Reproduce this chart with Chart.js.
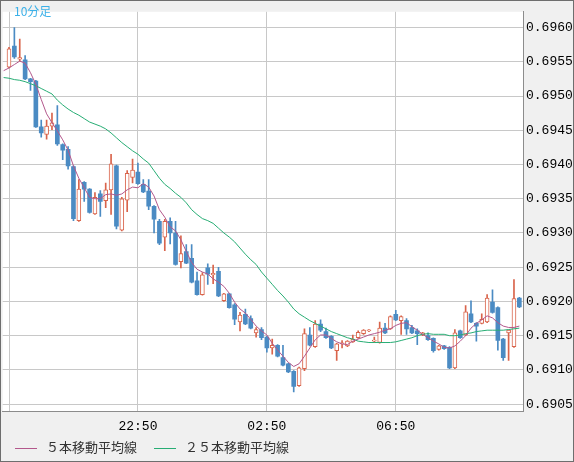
<!DOCTYPE html>
<html>
<head>
<meta charset="utf-8">
<script src="https://cdn.jsdelivr.net/npm/chart.js@4.4.1/dist/chart.umd.min.js"></script>
<style>
  body { margin: 0; background: #fff; }
  #wrap { position: relative; width: 574px; height: 462px; box-sizing: border-box; border: 1px solid #6e6e6e; background: #f0f0f0; }
  canvas { display: block; }
  #tf { position: absolute; left: 13px; top: 1px; font: 12px 'Noto Sans CJK JP'; color: #3ab0e8; }
  #legend { position: absolute; left: 14px; top: 436px; font: 13px 'Noto Sans CJK JP'; color: #333; white-space: nowrap; }
  #legend .sw { display: inline-block; width: 22px; height: 1px; vertical-align: middle; margin-right: 9px; }
  #legend .item2 { margin-left: 17px; }
</style>
</head>
<body>
<div id="wrap">
  <canvas id="chart" width="572" height="460"></canvas>
  <div id="tf">10分足</div>
  <div id="legend">
    <span class="sw" style="background:#b3588c"></span>５本移動平均線<span class="sw item2" style="background:#27ad74"></span>２５本移動平均線
  </div>
</div>
<script>
'use strict';

// 10 minute candles, 18:50 -> 10:40
let opens = [
  0.69542, 0.69573, 0.69554, 0.69553, 0.69525, 0.69522, 0.69455, 0.69444, 0.69456, 0.69458,
  0.69429, 0.69422, 0.69397, 0.69318, 0.69374, 0.69364, 0.69328, 0.69357, 0.69347, 0.69363,
  0.69398, 0.69304, 0.69348, 0.69381, 0.69389, 0.69371, 0.69361, 0.69339, 0.69317, 0.69294,
  0.69317, 0.69300, 0.69258, 0.69273, 0.69263, 0.69230, 0.69210, 0.69249, 0.69239, 0.69244,
  0.69201, 0.69211, 0.69195, 0.69170, 0.69181, 0.69175, 0.69154, 0.69159, 0.69148, 0.69132,
  0.69136, 0.69118, 0.69109, 0.69098, 0.69077, 0.69102, 0.69151, 0.69134, 0.69167, 0.69156,
  0.69149, 0.69128, 0.69138, 0.69135, 0.69141, 0.69147, 0.69153, 0.69157, 0.69142, 0.69140,
  0.69161, 0.69160, 0.69181, 0.69172, 0.69172, 0.69162, 0.69157, 0.69151, 0.69150, 0.69146,
  0.69130, 0.69135, 0.69133, 0.69103, 0.69157, 0.69151, 0.69182, 0.69168, 0.69168, 0.69170,
  0.69199, 0.69191, 0.69145, 0.69154, 0.69134, 0.69205
];
let highs = [
  0.69571, 0.69600, 0.69583, 0.69559, 0.69526, 0.69523, 0.69465, 0.69465, 0.69475, 0.69486,
  0.69430, 0.69426, 0.69398, 0.69378, 0.69375, 0.69365, 0.69359, 0.69362, 0.69373, 0.69415,
  0.69399, 0.69352, 0.69391, 0.69408, 0.69402, 0.69378, 0.69378, 0.69340, 0.69320, 0.69320,
  0.69322, 0.69317, 0.69296, 0.69283, 0.69283, 0.69243, 0.69242, 0.69255, 0.69253, 0.69250,
  0.69212, 0.69212, 0.69197, 0.69184, 0.69189, 0.69179, 0.69162, 0.69162, 0.69149, 0.69145,
  0.69137, 0.69136, 0.69110, 0.69099, 0.69104, 0.69160, 0.69162, 0.69172, 0.69173, 0.69161,
  0.69150, 0.69139, 0.69143, 0.69143, 0.69151, 0.69157, 0.69159, 0.69159, 0.69148, 0.69170,
  0.69168, 0.69179, 0.69187, 0.69179, 0.69175, 0.69165, 0.69160, 0.69155, 0.69154, 0.69147,
  0.69136, 0.69136, 0.69134, 0.69159, 0.69158, 0.69194, 0.69201, 0.69169, 0.69182, 0.69210,
  0.69217, 0.69192, 0.69146, 0.69158, 0.69232, 0.69206
];
let lows = [
  0.69541, 0.69555, 0.69551, 0.69524, 0.69508, 0.69454, 0.69440, 0.69437, 0.69451, 0.69428,
  0.69407, 0.69393, 0.69318, 0.69317, 0.69346, 0.69329, 0.69327, 0.69324, 0.69337, 0.69327,
  0.69306, 0.69303, 0.69331, 0.69373, 0.69371, 0.69359, 0.69334, 0.69300, 0.69283, 0.69274,
  0.69284, 0.69253, 0.69249, 0.69255, 0.69227, 0.69209, 0.69209, 0.69225, 0.69226, 0.69207,
  0.69200, 0.69190, 0.69166, 0.69157, 0.69166, 0.69160, 0.69148, 0.69144, 0.69126, 0.69123,
  0.69119, 0.69106, 0.69096, 0.69068, 0.69076, 0.69099, 0.69135, 0.69133, 0.69156, 0.69146,
  0.69131, 0.69114, 0.69132, 0.69134, 0.69140, 0.69146, 0.69152, 0.69156, 0.69140, 0.69139,
  0.69153, 0.69159, 0.69172, 0.69152, 0.69152, 0.69153, 0.69137, 0.69150, 0.69143, 0.69126,
  0.69129, 0.69130, 0.69102, 0.69102, 0.69146, 0.69150, 0.69169, 0.69142, 0.69167, 0.69169,
  0.69183, 0.69129, 0.69114, 0.69114, 0.69133, 0.69191
];
let closes = [
  0.69569, 0.69557, 0.69556, 0.69525, 0.69521, 0.69455, 0.69446, 0.69456, 0.69461, 0.69430,
  0.69421, 0.69398, 0.69321, 0.69364, 0.69364, 0.69330, 0.69352, 0.69346, 0.69363, 0.69401,
  0.69310, 0.69350, 0.69387, 0.69392, 0.69372, 0.69360, 0.69339, 0.69320, 0.69285, 0.69317,
  0.69300, 0.69254, 0.69270, 0.69256, 0.69228, 0.69210, 0.69239, 0.69240, 0.69241, 0.69208,
  0.69211, 0.69191, 0.69174, 0.69180, 0.69167, 0.69161, 0.69159, 0.69147, 0.69132, 0.69136,
  0.69120, 0.69107, 0.69097, 0.69076, 0.69103, 0.69153, 0.69136, 0.69167, 0.69158, 0.69147,
  0.69132, 0.69138, 0.69139, 0.69142, 0.69145, 0.69155, 0.69158, 0.69158, 0.69143, 0.69161,
  0.69154, 0.69178, 0.69173, 0.69178, 0.69160, 0.69154, 0.69153, 0.69154, 0.69144, 0.69128,
  0.69135, 0.69131, 0.69103, 0.69154, 0.69147, 0.69185, 0.69170, 0.69164, 0.69174, 0.69205,
  0.69184, 0.69143, 0.69118, 0.69158, 0.69204, 0.69192
];

// moving averages as drawn (they begin one bar before the first candle)
let ma5Before = 0.69537;
let ma25Before = 0.69527;
let ma5 = [
  0.69541, 0.69546, 0.69551, 0.69548, 0.69534, 0.69517, 0.69495, 0.69474, 0.69461, 0.69449,
  0.69436, 0.69421, 0.69398, 0.69380, 0.69366, 0.69352, 0.69350, 0.69350, 0.69356, 0.69357,
  0.69355, 0.69357, 0.69363, 0.69367, 0.69366, 0.69372, 0.69367, 0.69354, 0.69334, 0.69323,
  0.69309, 0.69303, 0.69290, 0.69273, 0.69257, 0.69247, 0.69243, 0.69240, 0.69233, 0.69228,
  0.69222, 0.69212, 0.69199, 0.69189, 0.69183, 0.69174, 0.69164, 0.69157, 0.69151, 0.69139,
  0.69129, 0.69120, 0.69111, 0.69105, 0.69109, 0.69120, 0.69132, 0.69144, 0.69151, 0.69151,
  0.69146, 0.69141, 0.69138, 0.69137, 0.69142, 0.69145, 0.69148, 0.69151, 0.69153, 0.69155,
  0.69158, 0.69160, 0.69165, 0.69168, 0.69169, 0.69163, 0.69158, 0.69152, 0.69147, 0.69142,
  0.69138, 0.69133, 0.69132, 0.69135, 0.69142, 0.69150, 0.69161, 0.69168, 0.69173, 0.69179,
  0.69176, 0.69169, 0.69164, 0.69162, 0.69162, 0.69164
];
let ma25 = [
  0.69526, 0.69524, 0.69523, 0.69521, 0.69518, 0.69515, 0.69511, 0.69507, 0.69503, 0.69494,
  0.69487, 0.69481, 0.69476, 0.69472, 0.69467, 0.69462, 0.69459, 0.69456, 0.69452, 0.69446,
  0.69439, 0.69432, 0.69426, 0.69420, 0.69415, 0.69408, 0.69402, 0.69391, 0.69380, 0.69371,
  0.69365, 0.69358, 0.69352, 0.69344, 0.69334, 0.69327, 0.69321, 0.69318, 0.69314, 0.69307,
  0.69300, 0.69294, 0.69287, 0.69278, 0.69269, 0.69261, 0.69254, 0.69243, 0.69234, 0.69225,
  0.69216, 0.69208, 0.69199, 0.69189, 0.69182, 0.69177, 0.69172, 0.69168, 0.69164, 0.69160,
  0.69156, 0.69153, 0.69150, 0.69147, 0.69145, 0.69142, 0.69141, 0.69140, 0.69140, 0.69140,
  0.69140, 0.69140, 0.69141, 0.69143, 0.69145, 0.69147, 0.69150, 0.69152, 0.69153, 0.69152,
  0.69152, 0.69152, 0.69150, 0.69150, 0.69151, 0.69153, 0.69154, 0.69156, 0.69157, 0.69158,
  0.69158, 0.69158, 0.69158, 0.69159, 0.69160, 0.69161
];

// axis ticks
let xTickIndex = [0, 24, 48, 72];
let xTickLabels = ['18:50', '22:50', '02:50', '06:50'];
let yTicks = [0.6905, 0.6910, 0.6915, 0.6920, 0.6925, 0.6930, 0.6935, 0.6940, 0.6945, 0.6950, 0.6955, 0.6960];

let upColor = '#d9644b';
let downColor = '#4b8bc3';
let ma5Color = '#b3588c';
let ma25Color = '#27ad74';
let gridColor = '#c8c8c8';
let axisFont = { family: 'Liberation Mono', size: 13 };

function isUp(i) {
    return closes[i] >= opens[i];
}

let wickData = [];
let bodyData = [];
let ma5Data = [{ x: -1, y: ma5Before }];
let ma25Data = [{ x: -1, y: ma25Before }];
for (let i = 0; i < opens.length; i++) {
    wickData.push({ x: i, y: [lows[i], highs[i]] });
    bodyData.push({ x: i, y: [opens[i], closes[i]] });
    ma5Data.push({ x: i, y: ma5[i] });
    ma25Data.push({ x: i, y: ma25[i] });
}

// white plot area on the grey panel
const plotBg = {
    id: 'plotBg',
    beforeDraw(chart) {
        let a = chart.chartArea;
        let ctx = chart.ctx;
        ctx.save();
        ctx.fillStyle = '#ffffff';
        ctx.fillRect(a.left, a.top, a.right - a.left, a.bottom - a.top);
        ctx.restore();
    }
};

let ctx = document.getElementById('chart').getContext('2d');
new Chart(ctx, {
    type: 'bar',
    data: {
        datasets: [
            {
                type: 'line',
                label: '５本移動平均線',
                data: ma5Data,
                borderColor: ma5Color,
                borderWidth: 1,
                pointRadius: 0,
                tension: 0,
                order: 1
            },
            {
                type: 'line',
                label: '２５本移動平均線',
                data: ma25Data,
                borderColor: ma25Color,
                borderWidth: 1,
                pointRadius: 0,
                tension: 0,
                order: 1
            },
            {
                label: 'body',
                data: bodyData,
                barThickness: 4,
                minBarLength: 1,
                grouped: false,
                borderSkipped: false,
                backgroundColor: (c) => isUp(c.dataIndex) ? '#ffffff' : downColor,
                borderColor: (c) => isUp(c.dataIndex) ? upColor : downColor,
                borderWidth: (c) => isUp(c.dataIndex) ? 1 : 0,
                order: 2
            },
            {
                label: 'wick',
                data: wickData,
                barThickness: 1,
                grouped: false,
                borderWidth: 0,
                backgroundColor: (c) => isUp(c.dataIndex) ? upColor : downColor,
                order: 3
            }
        ]
    },
    options: {
        responsive: false,
        animation: false,
        events: [],
        devicePixelRatio: 1,
        layout: { padding: 0 },
        plugins: {
            legend: { display: false },
            tooltip: { enabled: false }
        },
        scales: {
            x: {
                type: 'linear',
                min: -1.17,
                max: 95.68,
                offset: false,
                afterFit: (scale) => { scale.height = 50; },
                afterBuildTicks: (scale) => {
                    scale.ticks = xTickIndex.map(v => ({ value: v }));
                },
                grid: { color: gridColor, drawTicks: false, offset: false },
                border: { color: '#8c8c8c' },
                ticks: {
                    autoSkip: false,
                    maxRotation: 0,
                    padding: 8,
                    color: '#000',
                    font: axisFont,
                    callback: (v) => {
                        let k = xTickIndex.indexOf(v);
                        return k > 0 ? xTickLabels[k] : '';
                    }
                }
            },
            y: {
                position: 'right',
                min: 0.69040,
                max: 0.69623,
                afterFit: (scale) => { scale.width = 50; },
                afterBuildTicks: (scale) => {
                    scale.ticks = yTicks.map(v => ({ value: v }));
                },
                grid: { color: gridColor, drawTicks: false },
                border: { color: '#8c8c8c' },
                ticks: {
                    padding: 3,
                    color: '#000',
                    font: axisFont,
                    callback: (v) => v.toFixed(4)
                }
            }
        }
    },
    plugins: [plotBg]
});
</script>
</body>
</html>
